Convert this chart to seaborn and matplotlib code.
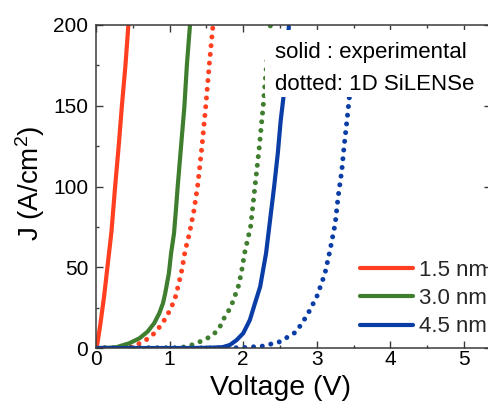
import numpy as np
import pandas as pd
import seaborn as sns
import matplotlib
matplotlib.use("Agg")
import matplotlib.pyplot as plt
from matplotlib.ticker import MultipleLocator
from matplotlib.patches import Rectangle

# Measured J-V curves (solid) for three well widths
v_exp_15 = [0.0, 0.02, 0.06, 0.11, 0.16, 0.21, 0.26, 0.31, 0.35, 0.40, 0.44]
j_exp_15 = [0.0, 3.0, 15.0, 32.0, 52.0, 72.0, 100.0, 126.0, 149.0, 175.0, 200.0]

v_exp_30 = [0.0, 0.15, 0.27, 0.45, 0.59, 0.70, 0.79, 0.86, 0.91, 0.94, 0.965, 0.99, 1.005,
            1.02, 1.04, 1.06, 1.085, 1.11, 1.155, 1.2, 1.236, 1.277]
j_exp_30 = [0.0, 0.1, 0.4, 2.9, 6.0, 10.1, 15.3, 21.5, 27.7, 33.8, 40.0, 46.2, 52.4,
            58.6, 64.8, 71.0, 85.0, 100.0, 124.6, 149.0, 176.0, 200.0]

v_exp_45 = [0.0, 1.2, 1.5, 1.72, 1.82, 1.91, 2.0, 2.09, 2.16, 2.23, 2.27, 2.31, 2.365,
            2.42, 2.47, 2.51, 2.545, 2.58, 2.62]
j_exp_45 = [0.0, 0.0, 0.1, 0.5, 1.9, 4.9, 9.1, 17.3, 27.7, 37.9, 48.2, 58.5, 79.2,
            99.8, 120.5, 141.1, 154.5, 175.0, 199.0]

# 1D SiLENSe simulations (dotted)
v_sim_15 = [0.0, 0.4, 0.5, 0.6, 0.68, 0.79, 0.9, 1.0, 1.07, 1.12, 1.17, 1.21, 1.27, 1.33,
            1.38, 1.44, 1.49, 1.54, 1.59]
j_sim_15 = [0.0, 0.0, 0.8, 3.0, 5.0, 9.0, 15.0, 23.0, 30.0, 39.0, 49.0, 60.0, 71.0, 85.0,
            100.0, 125.0, 149.0, 176.0, 200.0]

v_sim_30 = [0.0, 1.1, 1.25, 1.36, 1.47, 1.59, 1.68, 1.73, 1.8, 1.86, 1.94, 1.98, 2.02, 2.07,
            2.1, 2.16, 2.22, 2.27, 2.3, 2.335, 2.37]
j_sim_30 = [0.0, 0.0, 1.0, 2.9, 5.0, 8.0, 12.8, 17.7, 22.9, 28.7, 39.0, 48.0, 59.0, 69.0,
            75.0, 100.0, 125.0, 149.0, 166.0, 184.0, 200.0]

v_sim_45 = [0.0, 1.7, 2.0, 2.27, 2.5, 2.72, 2.87, 3.0, 3.11, 3.18, 3.25, 3.29, 3.34, 3.37,
            3.41, 3.44, 3.48, 3.52]
j_sim_45 = [0.0, 0.0, 0.2, 1.2, 3.9, 10.0, 20.4, 31.8, 46.0, 60.6, 77.0, 93.7, 110.0, 124.6,
            141.0, 154.0, 176.0, 198.0]

widths = ["1.5 nm", "3.0 nm", "4.5 nm"]
colors = ["#FF3F1F", "#3F7E2E", "#0B3DA6"]

exp_v = [v_exp_15, v_exp_30, v_exp_45]
exp_j = [j_exp_15, j_exp_30, j_exp_45]
sim_v = [v_sim_15, v_sim_30, v_sim_45]
sim_j = [j_sim_15, j_sim_30, j_sim_45]

sns.set_theme(style="ticks")
plt.rcParams["font.family"] = ["Liberation Sans", "DejaVu Sans"]
plt.rcParams["mathtext.default"] = "regular"

W, H = 489, 408
fig = plt.figure(figsize=(W / 100, H / 100), dpi=100)
ax_l, ax_r, ax_t, ax_b = 96, 491, 25, 348
ax = fig.add_axes([ax_l / W, 1 - ax_b / H, (ax_r - ax_l) / W, (ax_b - ax_t) / H])

# simulated curves first, measured curves on top
for v, j, c in zip(sim_v, sim_j, colors):
    df = pd.DataFrame({"V": v, "J": j})
    sns.lineplot(data=df, x="V", y="J", ax=ax, color=c, sort=False, estimator=None,
                 linewidth=3.6, linestyle=(0, (0.001, 1.75)), dash_capstyle="round",
                 legend=False)

handles = []
for v, j, c, w in zip(exp_v, exp_j, colors, widths):
    df = pd.DataFrame({"V": v, "J": j})
    sns.lineplot(data=df, x="V", y="J", ax=ax, color=c, sort=False, estimator=None,
                 linewidth=3.0, legend=False)
    handles.append(ax.lines[-1])

ax.set_xlim(0, (ax_r - ax_l) / 73.6)
ax.set_ylim(0, 200)
ax.xaxis.set_major_locator(MultipleLocator(1))
ax.xaxis.set_minor_locator(MultipleLocator(0.5))
ax.yaxis.set_major_locator(MultipleLocator(50))
ax.yaxis.set_minor_locator(MultipleLocator(25))

for s in ax.spines.values():
    s.set_color("#3a3a3a")
    s.set_linewidth(1.1)

ax.tick_params(which="both", direction="in", top=True, right=True,
               color="#3a3a3a", width=1.0)
ax.tick_params(which="major", length=5, labelsize=15, labelcolor="black")
ax.tick_params(which="minor", length=2.5)
ax.tick_params(axis="x", which="major", pad=1.5)
ax.tick_params(axis="y", which="major", pad=5.5)

ax.set_xlabel("Voltage (V)", fontsize=20.5, color="black")
ax.set_ylabel("J (A/cm$^{2}$)", fontsize=20, color="black")
ax.xaxis.set_label_coords((280.5 - ax_l) / (ax_r - ax_l), -0.085)
ax.yaxis.set_label_coords(-0.125, 0.51)

ax.legend(handles=handles, labels=widths, loc="center left",
          bbox_to_anchor=(360 / W, 1 - 298.5 / H), bbox_transform=fig.transFigure,
          frameon=False, fontsize=16, handlelength=2.39, handletextpad=0.25,
          labelspacing=0.33, borderpad=0.0, borderaxespad=0.0)

# white panel behind the note in the upper right
ax.add_patch(Rectangle((265 / W, 1 - 97 / H), (495 - 265) / W, (97 - 30) / H,
                       transform=fig.transFigure, facecolor="white", edgecolor="none",
                       zorder=4, clip_on=False))
ax.text(275 / W, 1 - 58 / H, "solid : experimental", transform=fig.transFigure,
        ha="left", va="baseline", fontsize=16, color="black", zorder=5)
ax.text(275 / W, 1 - 89.5 / H, "dotted: 1D SiLENSe", transform=fig.transFigure,
        ha="left", va="baseline", fontsize=16, color="black", zorder=5)

fig.savefig("out.png", dpi=100)
